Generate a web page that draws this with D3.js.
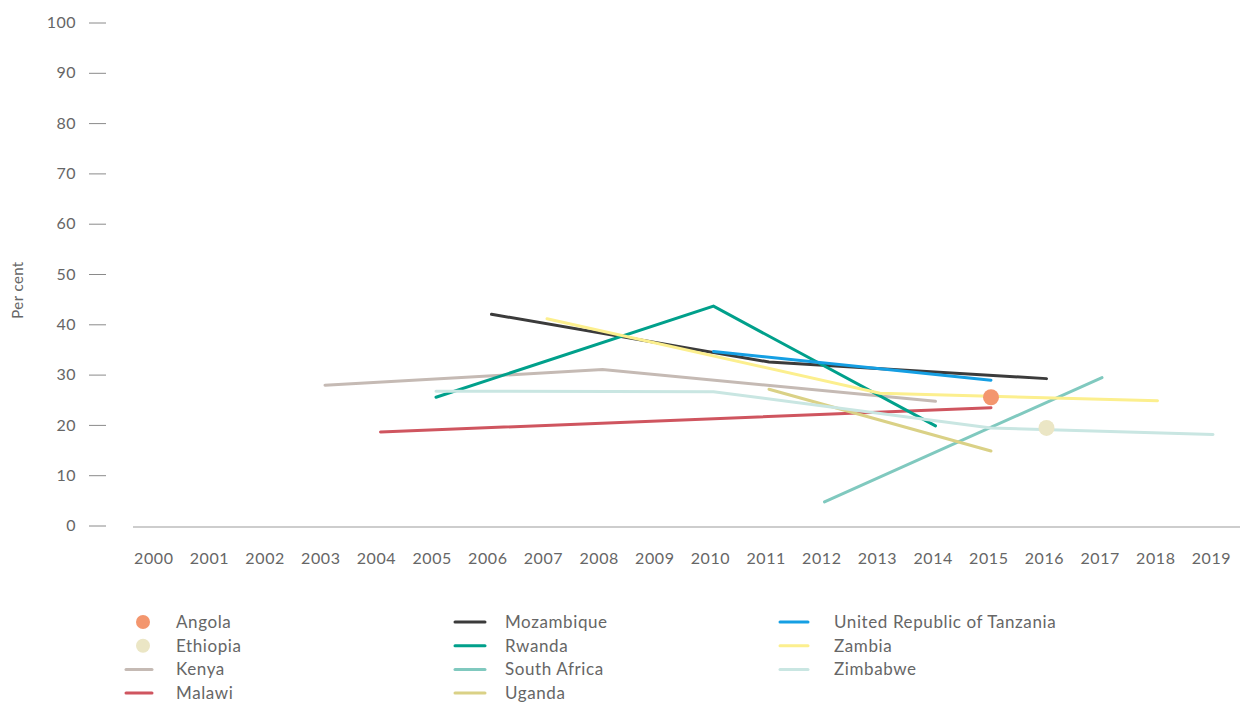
<!DOCTYPE html>
<html>
<head>
<meta charset="utf-8">
<script src="https://cdn.jsdelivr.net/npm/d3@7"></script>
<style>
  body { margin: 0; background: #fff; }
  svg text { font-family: Lato, "Open Sans", sans-serif; fill: #666; font-weight: 400; }
</style>
</head>
<body>
<svg id="chart" width="1247" height="702"></svg>
<script>
// ---- data ----
const years = ["2000","2001","2002","2003","2004","2005","2006","2007","2008","2009",
               "2010","2011","2012","2013","2014","2015","2016","2017","2018","2019"];
const yTicks = [0, 10, 20, 30, 40, 50, 60, 70, 80, 90, 100];

const angola      = [["2015", 25.5]];
const ethiopia    = [["2016", 19.4]];
const kenya       = [["2003", 27.9], ["2008", 31.0], ["2014", 24.7]];
const malawi      = [["2004", 18.6], ["2015", 23.4]];
const mozambique  = [["2006", 42.0], ["2011", 32.5], ["2016", 29.2]];
const rwanda      = [["2005", 25.5], ["2010", 43.6], ["2014", 19.8]];
const southAfrica = [["2012", 4.7], ["2017", 29.4]];
const uganda      = [["2011", 27.1], ["2015", 14.8]];
const tanzania    = [["2010", 34.6], ["2015", 28.9]];
const zambia      = [["2007", 41.1], ["2013", 26.3], ["2018", 24.8]];
const zimbabwe    = [["2005", 26.7], ["2010", 26.6], ["2015", 19.4], ["2019", 18.1]];

const series = [
  { name: "Angola", type: "dot", color: "#f3966e", data: angola },
  { name: "Ethiopia", type: "dot", color: "#ebe6c5", data: ethiopia },
  { name: "Kenya", type: "line", color: "#c5bab4", data: kenya },
  { name: "Malawi", type: "line", color: "#cf555f", data: malawi },
  { name: "Mozambique", type: "line", color: "#3b3b3b", data: mozambique },
  { name: "Rwanda", type: "line", color: "#00a08b", data: rwanda },
  { name: "South Africa", type: "line", color: "#80c9bf", data: southAfrica },
  { name: "Uganda", type: "line", color: "#dad186", data: uganda },
  { name: "United Republic of Tanzania", type: "line", color: "#159fe3", data: tanzania },
  { name: "Zambia", type: "line", color: "#fcef8e", data: zambia },
  { name: "Zimbabwe", type: "line", color: "#c9e6e2", data: zimbabwe }
];

// ---- layout ----
const svg = d3.select("#chart");
const xAxisScale = d3.scalePoint().domain(years).range([153.3, 1211]);
const x = d3.scalePoint().domain(years).range([158.5, 1213]);
const y = d3.scaleLinear().domain([0, 100]).range([525.5, 22.5]);

// y axis (ticks as short dashes with labels)
const yAxis = d3.axisLeft(y).tickValues(yTicks).tickSize(0).tickPadding(0);
const yG = svg.append("g").attr("transform", "translate(106,0)").call(yAxis);
yG.select(".domain").remove();
yG.selectAll(".tick line").remove();
yG.selectAll(".tick").append("line")
  .attr("x1", -17).attr("x2", 0).attr("stroke", "#8a8a8a").attr("stroke-width", 1);
yG.selectAll(".tick text")
  .attr("x", -30).attr("dy", "0.32em")
  .style("font-size", "16px").style("font-family", "Lato, sans-serif")
  .style("letter-spacing", "0.5px").attr("fill", "#666");

svg.append("text")
  .attr("transform", "translate(23,290) rotate(-90)")
  .attr("text-anchor", "middle")
  .style("font-size", "15px")
  .style("letter-spacing", "0.4px")
  .text("Per cent");

// x axis
const xAxis = d3.axisBottom(xAxisScale).tickSize(0).tickPadding(0);
const xG = svg.append("g").attr("transform", "translate(0,527)").call(xAxis);
xG.select(".domain").remove();
xG.append("line").attr("x1", 133).attr("x2", 1240).attr("y1", 0).attr("y2", 0)
  .attr("stroke", "#bdbdbd").attr("stroke-width", 1.5);
xG.selectAll(".tick text")
  .attr("y", 32).attr("dy", "0.32em")
  .style("font-size", "16px").style("font-family", "Lato, sans-serif")
  .style("letter-spacing", "0.6px").attr("fill", "#666");

// lines
const line = d3.line().x(d => x(d[0])).y(d => y(d[1]));
const plot = svg.append("g");
series.filter(s => s.type === "line").forEach(s => {
  plot.append("path")
    .datum(s.data)
    .attr("d", line)
    .attr("fill", "none")
    .attr("stroke", s.color)
    .attr("stroke-width", 3)
    .attr("stroke-linecap", "round")
    .attr("stroke-linejoin", "miter");
});
series.filter(s => s.type === "dot").forEach(s => {
  plot.selectAll(null).data(s.data).enter().append("circle")
    .attr("cx", d => x(d[0])).attr("cy", d => y(d[1]))
    .attr("r", 8).attr("fill", s.color);
});

// legend
const colX = [126, 455, 780];
const rowY0 = 622, rowH = 23.7;
const legend = svg.append("g");
series.forEach((s, i) => {
  const col = Math.floor(i / 4), row = i % 4;
  const gx = colX[col], gy = rowY0 + row * rowH;
  const g = legend.append("g").attr("transform", `translate(${gx},${gy})`);
  const w = col === 0 ? 26 : (col === 1 ? 30 : 28);
  if (s.type === "dot") {
    g.append("circle").attr("cx", 17).attr("cy", 0).attr("r", 7).attr("fill", s.color);
  } else {
    g.append("line").attr("x1", 0).attr("x2", w).attr("y1", 0).attr("y2", 0)
      .attr("stroke", s.color).attr("stroke-width", 3).attr("stroke-linecap", "round");
  }
  const tx = col === 0 ? 50 : (col === 1 ? 50 : 54);
  g.append("text").attr("x", tx).attr("y", 0).attr("dy", "0.35em")
    .style("font-size", "17px").style("letter-spacing", "0.6px").text(s.name);
});
</script>
</body>
</html>
